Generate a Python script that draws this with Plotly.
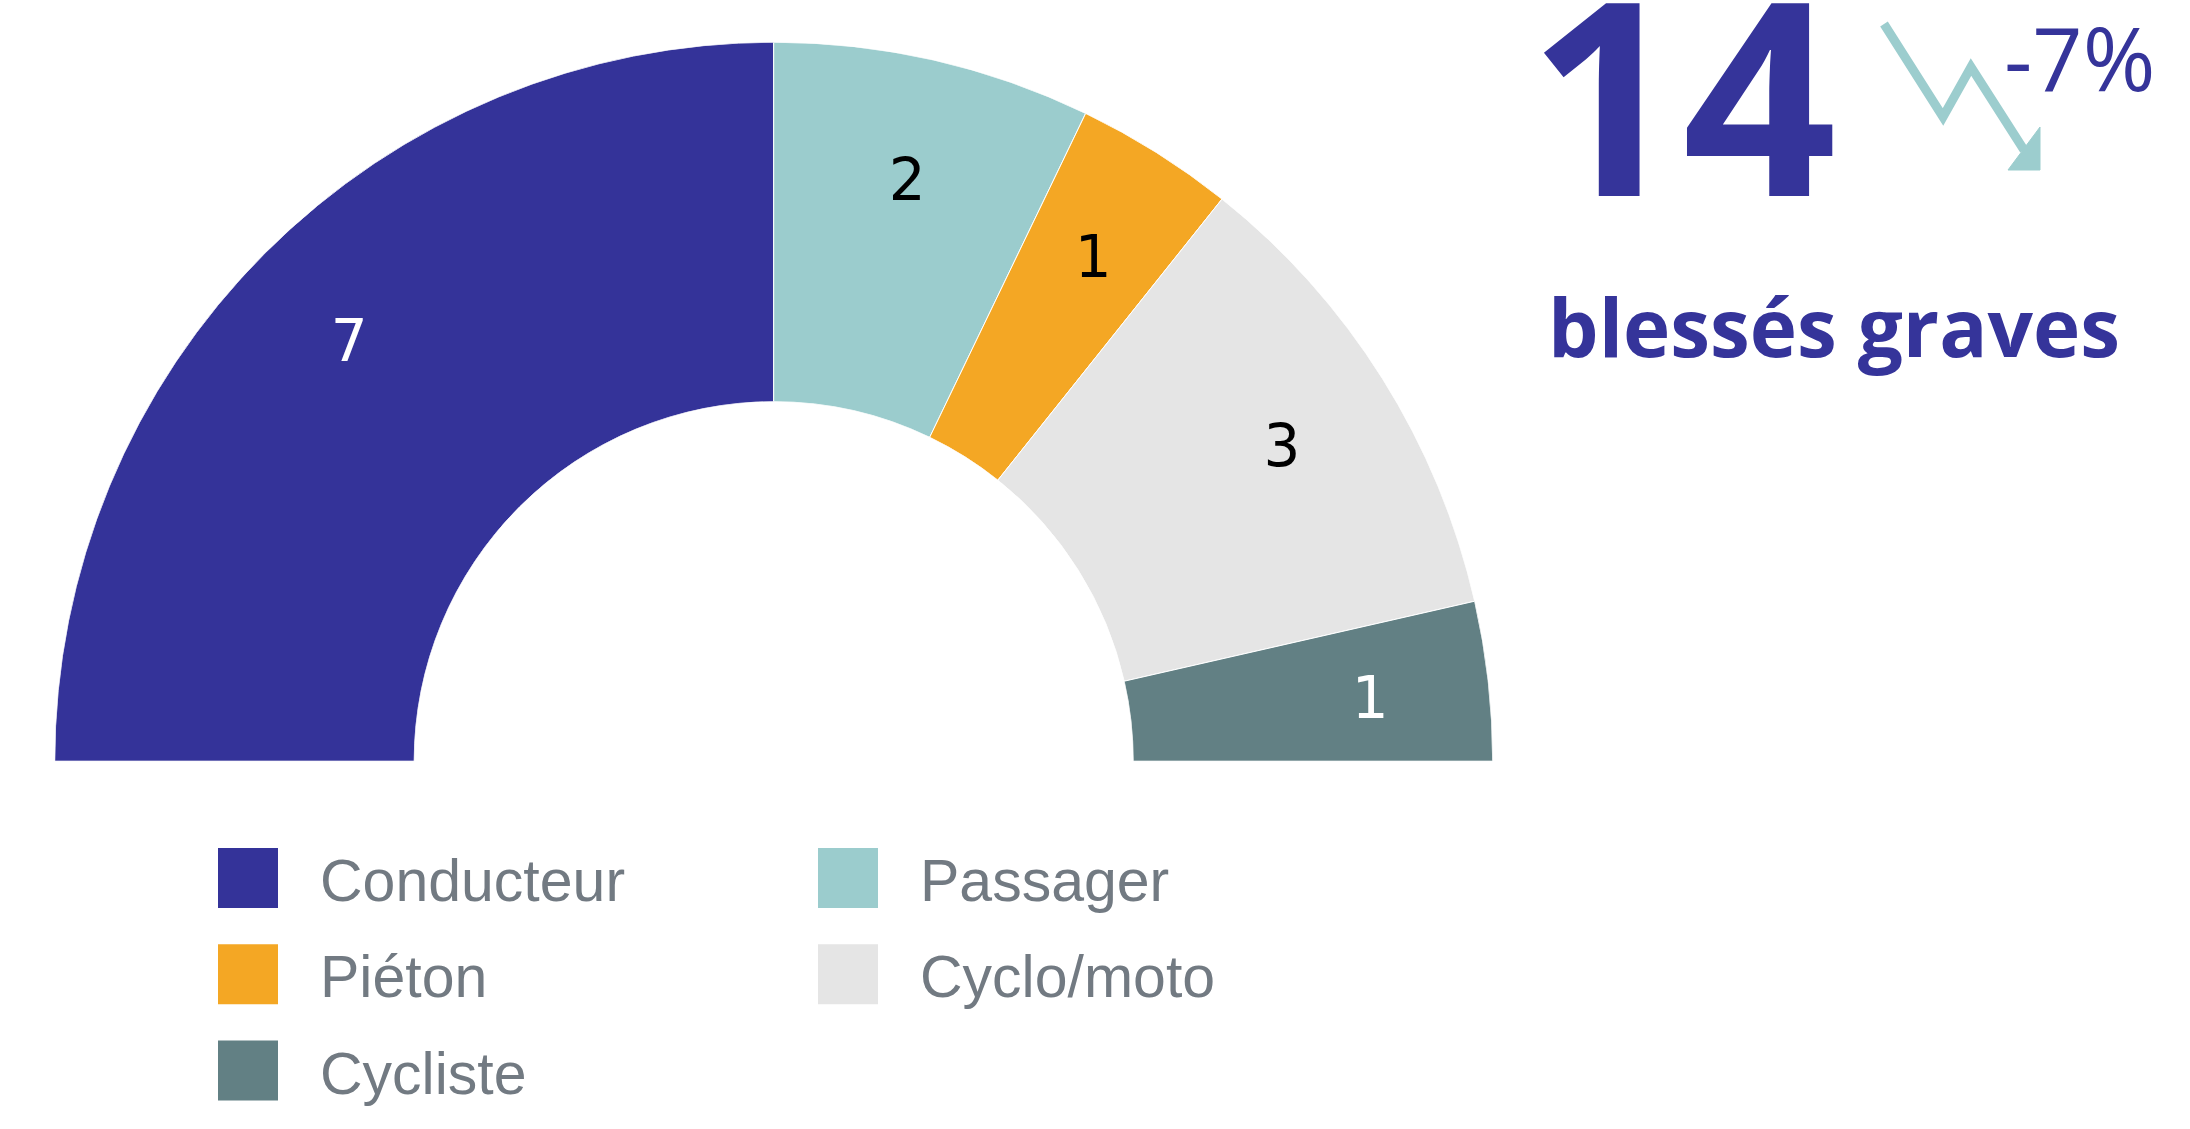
import numpy as np
import plotly.graph_objects as go

W, H = 2190, 1129

# ---- data ----
categories = ["Conducteur", "Passager", "Piéton", "Cyclo/moto", "Cycliste"]
values = [7, 2, 1, 3, 1]
colors = ["#343399", "#9bcccd", "#f4a724", "#e5e5e5", "#628084"]
label_colors = ["white", "black", "black", "black", "white"]
headline_label = "blessés graves"
change_label = "-7%"

INDIGO = "#35349a"
TEAL = "#9ccdce"


def px(x):
    return x / W


def py(y):
    return 1 - y / H


# donut geometry (pixels)
cx, cy, R = 773.7, 761.2, 719
HOLE = 0.5

total = sum(values)
cum_before = np.concatenate([[0], np.cumsum(values)[:-1]])
widths = [v / total * 180 for v in values]
mids = [(c + v / 2) / total * 180 for c, v in zip(cum_before, values)]

# label placement: mid-angle of each slice, at a fixed fraction of the ring,
# nudged down a few pixels so the glyphs sit like the reference
label_frac, label_drop = 0.67, 10
lab_r, lab_t = [], []
for m in mids:
    a = np.deg2rad(180 - m)
    rp = R * HOLE + label_frac * R * (1 - HOLE)
    x, y = rp * np.cos(a), rp * np.sin(a) - label_drop
    rp2 = np.hypot(x, y)
    lab_r.append((rp2 - R * HOLE) / (R * (1 - HOLE)))
    lab_t.append(180 - np.rad2deg(np.arctan2(y, x)))

fig = go.Figure()
fig.add_trace(go.Barpolar(
    r=[1] * len(values),
    theta=mids,
    width=widths,
    marker=dict(color=colors, line=dict(color="white", width=1)),
    hoverinfo="skip",
    showlegend=False,
))
fig.add_trace(go.Scatterpolar(
    r=lab_r,
    theta=lab_t,
    text=[str(v) for v in values],
    mode="text",
    textposition="middle center",
    textfont=dict(family="DejaVu Sans", size=58, color=label_colors),
    hoverinfo="skip",
    showlegend=False,
))

fig.update_layout(
    polar=dict(
        domain=dict(x=[px(cx - R), px(cx + R)], y=[py(cy), py(cy - R)]),
        sector=[0, 180],
        hole=HOLE,
        bgcolor="rgba(0,0,0,0)",
        bargap=0,
        radialaxis=dict(range=[0, 1], visible=False),
        angularaxis=dict(visible=False, rotation=180, direction="clockwise"),
    )
)

annotations = []
shapes = []

# headline numbers
annotations.append(dict(
    x=px(1682), y=py(91), xref="paper", yref="paper", text=str(total),
    showarrow=False, xanchor="center", yanchor="middle",
    font=dict(family="Open Sans", size=270, color=INDIGO, weight=700),
))
annotations.append(dict(
    x=px(2079), y=py(57), xref="paper", yref="paper", text=change_label,
    showarrow=False, xanchor="center", yanchor="middle",
    font=dict(family="Open Sans", size=88, color=INDIGO),
))
annotations.append(dict(
    x=px(1834), y=py(325), xref="paper", yref="paper", text=headline_label,
    showarrow=False, xanchor="center", yanchor="middle",
    font=dict(family="Open Sans", size=80, color=INDIGO, weight=700),
))

# trend icon
pts = [(1884, 24), (1943, 117), (1971, 67), (2024, 150)]
path = "M " + " L ".join(f"{px(x)},{py(y)}" for x, y in pts)
shapes.append(dict(type="path", xref="paper", yref="paper", path=path,
                   line=dict(color=TEAL, width=9), fillcolor="rgba(0,0,0,0)"))
tri = [(2008, 170), (2040, 170), (2040, 127)]
tpath = "M " + " L ".join(f"{px(x)},{py(y)}" for x, y in tri) + " Z"
shapes.append(dict(type="path", xref="paper", yref="paper", path=tpath,
                   line=dict(color=TEAL, width=1), fillcolor=TEAL))

# custom legend (2 columns)
col_x = [218, 818]
row_top0, row_step, sq = 848, 96.3, 60
for i, (cat, col) in enumerate(zip(categories, colors)):
    c, r = i % 2, i // 2
    x0 = col_x[c]
    y0 = row_top0 + r * row_step
    shapes.append(dict(type="rect", xref="paper", yref="paper",
                       x0=px(x0), x1=px(x0 + sq), y0=py(y0 + sq), y1=py(y0),
                       fillcolor=col, line=dict(width=0)))
    annotations.append(dict(
        x=px(x0 + 100), y=py(y0 + sq / 2 + 3), xref="paper", yref="paper",
        text=cat, showarrow=False, xanchor="left", yanchor="middle",
        font=dict(family="Liberation Sans", size=59, color="#727a82"),
    ))

fig.update_layout(
    width=W, height=H, autosize=False,
    margin=dict(l=0, r=0, t=0, b=0),
    paper_bgcolor="white", plot_bgcolor="white",
    showlegend=False,
    annotations=annotations,
    shapes=shapes,
)

fig.write_html(
    "out.html",
    config={"displayModeBar": False},
    post_script="document.body.style.margin='0px';document.documentElement.style.overflow='hidden';",
)
